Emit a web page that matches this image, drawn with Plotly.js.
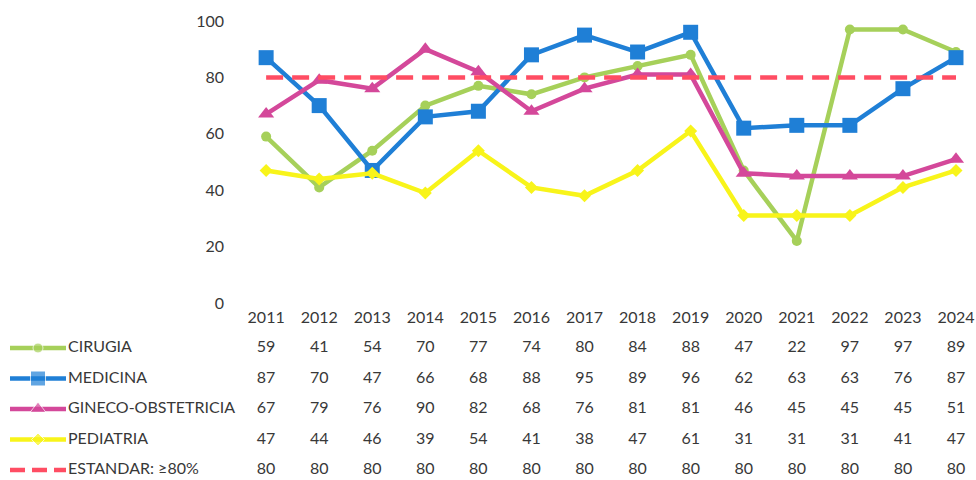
<!DOCTYPE html>
<html>
<head>
<meta charset="utf-8">
<script src="https://cdn.plot.ly/plotly-3.0.1.min.js"></script>
<style>html,body{margin:0;padding:0;background:#fff;}#chart{width:976px;height:480px;}</style>
</head>
<body>
<div id="chart"></div>
<script>
const years = [2011,2012,2013,2014,2015,2016,2017,2018,2019,2020,2021,2022,2023,2024];
const seriesNames = ["CIRUGIA","MEDICINA","GINECO-OBSTETRICIA","PEDIATRIA","ESTANDAR: \u226580%"];
const cirugia   = [59,41,54,70,77,74,80,84,88,47,22,97,97,89];
const medicina  = [87,70,47,66,68,88,95,89,96,62,63,63,76,87];
const gineco    = [67,79,76,90,82,68,76,81,81,46,45,45,45,51];
const pediatria = [47,44,46,39,54,41,38,47,61,31,31,31,41,47];
const estandar  = [80,80,80,80,80,80,80,80,80,80,80,80,80,80];
const yTicks = [0,20,40,60,80,100];

const allValues = [cirugia, medicina, gineco, pediatria, estandar];
const styles = [
  {color:'#a6d05a', symbol:'circle', size:10, dash:'solid'},
  {color:'#1f7fd6', symbol:'square', size:15, dash:'solid'},
  {color:'#d4489a', symbol:'triangle-up', size:14, dash:'solid'},
  {color:'#f8f41a', symbol:'diamond', size:10, dash:'solid'},
  {color:'#ff4d63', symbol:'circle', size:0, dash:'17px,9px'}
];
const font = 'Lato, "Noto Sans", sans-serif';
const textColor = '#383838';
const fs = 16;

const traces = [];
allValues.forEach((vals, i) => {
  const s = styles[i];
  traces.push({
    x: years, y: vals, type:'scatter',
    mode: s.size > 0 ? 'lines+markers' : 'lines',
    name: seriesNames[i],
    line:{color:s.color, width:4.5, dash:s.dash},
    marker:{color:s.color, symbol:s.symbol, size:s.size},
    xaxis:'x', yaxis:'y', hoverinfo:'skip'
  });
});
// legend samples (left part of the table)
allValues.forEach((vals, i) => {
  const s = styles[i];
  traces.push({
    x:[10,38,66], y:[i,i,i], type:'scatter',
    mode: s.size > 0 ? 'lines+markers' : 'lines',
    line:{color:s.color, width:4.5, dash: s.size>0 ? 'solid' : '15px,7px'},
    marker:{color:s.color, symbol:s.symbol, size:[0, s.size, 0]},
    xaxis:'x2', yaxis:'y2', hoverinfo:'skip', cliponaxis:false
  });
  traces.push({
    x:[68], y:[i], type:'scatter', mode:'text',
    text:[seriesNames[i]], textposition:'middle right',
    textfont:{family:font, size:fs, color:textColor},
    xaxis:'x2', yaxis:'y2', hoverinfo:'skip', cliponaxis:false
  });
  // table values
  traces.push({
    x: years, y: years.map(() => i), type:'scatter', mode:'text',
    text: vals.map(String), textposition:'middle center',
    textfont:{family:font, size:fs, color:textColor},
    xaxis:'x', yaxis:'y2', hoverinfo:'skip', cliponaxis:false
  });
});

const layout = {
  width:976, height:480,
  margin:{l:0, r:0, t:0, b:0},
  paper_bgcolor:'#ffffff', plot_bgcolor:'rgba(0,0,0,0)',
  showlegend:false,
  font:{family:font, color:textColor, size:fs},
  xaxis:{
    domain:[238/976, 1], range:[2010.47, 2024.377],
    tickvals:years, ticktext:years.map(String),
    showgrid:false, zeroline:false, showline:false, ticks:'',
    ticklabelstandoff:3, anchor:'y',
    tickfont:{family:font, size:fs, color:textColor}
  },
  yaxis:{
    domain:[(480-303)/480, (480-21)/480], range:[0,100],
    tickvals:yTicks, showgrid:false, zeroline:false, showline:false, ticks:'',
    ticklabelstandoff:13, anchor:'x',
    tickfont:{family:font, size:fs, color:textColor}
  },
  xaxis2:{domain:[0, 238/976], range:[0,238], visible:false, anchor:'y2'},
  yaxis2:{domain:[0, (480-303)/480], range:[(480-348)/30.5, (303-348)/30.5], visible:false, anchor:'x2'}
};

Plotly.newPlot('chart', traces, layout, {displayModeBar:false, staticPlot:true});
</script>
</body>
</html>
